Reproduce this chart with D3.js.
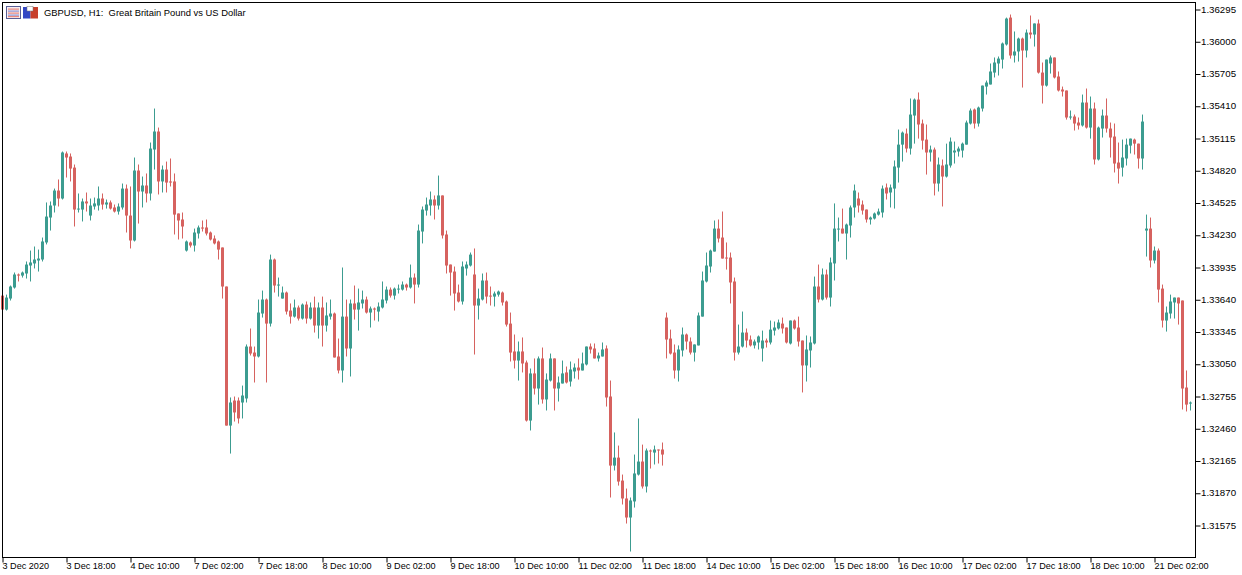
<!DOCTYPE html>
<html>
<head>
<meta charset="utf-8">
<script src="https://d3js.org/d3.v7.min.js"></script>
<style>
    html, body { margin: 0; padding: 0; background: #fff; overflow: hidden; }
    svg { display: block; }
    text { font-family: "Liberation Sans", Arial, sans-serif; fill: #000; }
</style>
</head>
<body>
<svg id="chart" width="1242" height="575"></svg>
<script>
// prices in points (1 point = 0.00001)
const opens = [
133678,133550,133651,133752,133871,133861,133880,133953,133972,133999,
134008,134164,134392,134502,134639,134566,134978,134950,134849,134465,
134465,134539,134410,134493,134502,134566,134511,134530,134484,134447,
134484,134657,134410,134182,134822,134630,134685,134612,135014,135179,
134722,134831,134722,134722,134429,134374,134090,134164,134136,134246,
134301,134301,134255,134200,134173,134118,133761,132489,132718,132718,
132700,132737,133212,133157,133121,133514,133642,133422,134008,133770,
133651,133706,133541,133486,133569,133468,133596,133468,133569,133404,
133569,133404,133486,133514,133121,132993,133486,133194,133606,133550,
133606,133642,133523,133560,133532,133569,133633,133733,133678,133733,
133733,133779,133752,133843,133779,134264,134456,134502,134557,134502,
134594,134237,133962,133898,133706,133624,133926,133953,133871,133587,
133642,133816,133678,133669,133687,133706,133624,133422,133167,133084,
133167,133066,132535,132966,132828,133103,132728,132901,133103,132828,
132874,132975,132892,132984,133020,132993,133048,133212,133194,133103,
133121,133194,132755,132123,132196,131986,131822,131648,131795,132041,
132160,131932,132261,132242,132270,132270,133477,133285,133157,132993,
133176,133322,133258,133157,133222,133486,133807,133944,134081,134291,
134209,134026,134026,133807,133157,133212,133340,133276,133222,133249,
133194,133267,133249,133358,133377,133422,133386,133240,133450,133386,
133267,133039,133176,133240,133761,133642,133871,133660,133972,134282,
134291,134246,134319,134484,134566,134511,134465,134374,134383,134419,
134438,134667,134621,134657,134849,135059,135160,135023,135325,135471,
135252,135105,134987,135014,134703,134868,134767,134868,134987,134996,
135005,135059,135252,135380,135252,135389,135590,135609,135718,135801,
135837,135975,136221,135874,135911,136029,135920,136084,136066,136167,
135718,135599,135801,135856,135682,135563,135554,135307,135316,135261,
135234,135444,135215,135389,134923,135206,135325,135206,135133,134895,
134849,134932,135050,135105,135068,134932,134273,134291,133999,134090,
133742,133450,133514,133615,133660,133633,132837,132690];

const highs = [
133678,133687,133770,133889,133880,133898,133990,134090,134127,134099,
134209,134530,134539,134657,134740,134996,134996,134978,134877,134612,
134566,134621,134566,134575,134676,134612,134557,134548,134511,134521,
134703,134694,134676,134941,134877,134767,134795,135078,135389,135215,
134868,134904,134932,134795,134429,134438,134182,134173,134291,134319,
134365,134374,134264,134228,134182,134118,133761,132746,132755,132746,
132855,133231,133377,133212,133642,133724,133651,134053,134017,133843,
133761,133715,133606,133642,133587,133606,133624,133615,133669,133615,
133669,133615,133642,133523,133285,133935,133642,133642,133770,133742,
133724,133669,133578,133569,133615,133807,133761,133752,133752,133779,
133807,133788,133962,133880,134328,134493,134575,134630,134594,134776,
134594,134273,133962,133944,133779,133990,133990,134072,134109,133742,
133880,133889,133761,133715,133724,133715,133633,133523,133322,133258,
133295,133084,133011,133103,133121,133203,132966,133148,133103,132938,
133084,133029,133075,133057,133103,133157,133212,133240,133240,133157,
133249,133222,132901,132426,132306,132041,131913,131831,132224,132554,
132315,132279,132270,132306,132270,132334,133523,133367,133231,133222,
133386,133331,133295,133231,133523,133898,134072,134099,134365,134374,
134447,134164,134072,133843,133413,133532,133377,133313,133276,133313,
133358,133285,133450,133441,133459,133477,133386,133450,133459,133486,
133267,133313,133304,133852,133962,133926,133916,134026,134521,134392,
134474,134337,134502,134694,134621,134548,134465,134401,134438,134474,
134685,134703,134694,134914,135197,135179,135206,135481,135481,135536,
135288,135243,135050,135032,134941,134923,135068,135124,135087,135041,
135078,135279,135389,135389,135407,135599,135645,135801,135856,135865,
135993,136221,136249,136094,136038,136038,136112,136240,136167,136203,
135810,135837,135874,135856,135728,135590,135554,135371,135334,135307,
135517,135572,135499,135444,135224,135380,135481,135261,135252,135078,
135105,135114,135114,135114,135068,135334,134419,134392,134127,134109,
133779,133578,133687,133660,133660,133633,132993,132709];

const lows = [
133550,133541,133633,133742,133807,133843,133834,133807,133926,133898,
133990,134146,134273,134438,134493,134557,134758,134722,134310,134438,
134356,134447,134365,134465,134456,134465,134474,134465,134438,134419,
134465,134255,134109,134173,134337,134484,134530,134548,134831,134603,
134621,134621,134676,134237,134191,134200,134081,134118,134081,134200,
134264,134228,134182,134146,134008,133651,132489,132233,132526,132508,
132554,132700,133130,132883,133112,133477,132883,133395,133706,133669,
133651,133505,133422,133477,133450,133459,133422,133459,133340,133285,
133212,133349,133459,133112,132966,132883,133121,132938,133459,133358,
133560,133514,133386,133450,133441,133560,133606,133660,133642,133697,
133724,133724,133742,133606,133752,134155,134410,134410,134374,134465,
134200,133880,133678,133541,133615,133596,133861,133944,133139,133459,
133633,133606,133587,133578,133669,133587,133395,133075,133011,132901,
132975,132526,132444,132773,132681,132690,132627,132892,132627,132709,
132874,132874,132846,132919,132910,132993,133039,133148,133103,133075,
133121,132663,131831,132078,131940,131767,131593,131337,131739,132032,
131913,131877,132096,132133,132142,132123,133103,133139,132919,132892,
133121,133185,133139,133075,133222,133486,133798,133889,134081,134164,
134017,133916,133606,133084,133139,133203,133203,133212,133194,133185,
133075,133203,133231,133313,133367,133331,133240,133231,133367,133212,
132792,132892,133020,133231,133615,133633,133642,133578,133816,134173,
134246,134008,134209,134392,134438,134419,134346,134328,134374,134410,
134392,134557,134484,134474,134712,134904,134987,134968,135068,135114,
135014,134785,134904,134594,134630,134493,134758,134849,134886,134950,
134941,135059,135243,135206,135224,135362,135517,135609,135673,135691,
135755,135965,135846,135810,135819,135581,135856,136029,135956,135709,
135435,135590,135709,135664,135545,135499,135288,135288,135188,135197,
135224,135206,135114,134877,134914,135124,135169,134941,134804,134703,
134767,134868,134978,134968,134840,134831,134035,133935,133972,133615,
133386,133349,133468,133468,133413,132636,132618,132627];

const closes = [
133550,133660,133761,133871,133861,133889,133962,133981,134008,134017,
134173,134401,134502,134639,134566,134987,134941,134840,134465,134474,
134539,134521,134502,134521,134566,134511,134530,134474,134447,134493,
134657,134410,134182,134822,134630,134685,134612,135023,135179,134722,
134831,134712,134712,134419,134365,134310,134173,134136,134255,134301,
134291,134246,134191,134155,134099,133761,132489,132700,132609,132554,
132764,133212,133148,133121,133523,133642,133422,134008,133770,133779,
133706,133532,133486,133569,133468,133596,133468,133569,133404,133569,
133404,133496,133514,133112,132993,133486,133194,133606,133550,133615,
133642,133523,133560,133550,133578,133642,133733,133678,133742,133742,
133779,133752,133843,133779,134273,134465,134511,134557,134502,134594,
134228,133953,133889,133697,133624,133944,133962,134053,133587,133651,
133816,133669,133669,133697,133715,133615,133413,133157,133084,133167,
133057,132535,132966,132828,133103,132728,132910,133103,132828,132883,
132966,132883,133002,133020,132993,133057,133212,133185,133103,133130,
133185,132746,132123,132196,131977,131822,131648,131804,132051,132160,
131932,132261,132252,132270,132261,132224,133276,133148,132993,133185,
133322,133258,133157,133231,133496,133816,133953,134090,134291,134200,
134017,134017,133798,133157,133212,133340,133267,133222,133258,133304,
133267,133249,133367,133386,133432,133377,133249,133450,133377,133258,
133039,133185,133249,133761,133642,133871,133660,133981,134291,134291,
134246,134328,134484,134639,134502,134456,134374,134392,134429,134447,
134657,134612,134667,134859,135059,135169,135023,135334,135471,135243,
135096,134987,135014,134703,134877,134767,134877,135087,135005,135023,
135068,135261,135371,135252,135398,135599,135627,135728,135810,135846,
135984,136212,135874,135911,136029,135920,136084,136066,136167,135718,
135599,135837,135856,135673,135554,135545,135307,135316,135252,135234,
135444,135215,135389,134923,135215,135325,135206,135124,134886,134840,
134941,135059,135114,135068,134932,135270,134291,133999,134090,133733,
133450,133523,133624,133660,133606,132828,132681,132700];

const priceTicks = [136295,136000,135705,135410,135115,134820,134525,134230,133935,133640,133345,133050,132755,132460,132165,131870,131575];
const timeLabels = ["3 Dec 2020","3 Dec 18:00","4 Dec 10:00","7 Dec 02:00","7 Dec 18:00","8 Dec 10:00","9 Dec 02:00","9 Dec 18:00","10 Dec 10:00","11 Dec 02:00","11 Dec 18:00","14 Dec 10:00","15 Dec 02:00","15 Dec 18:00","16 Dec 10:00","17 Dec 02:00","17 Dec 18:00","18 Dec 10:00","21 Dec 02:00"];
const title = "GBPUSD, H1:  Great Britain Pound vs US Dollar";

const up = "#3c9c90", down = "#d6625f";
const plotLeft = 2.5, plotRight = 1195.5, plotTop = 2.5, plotBottom = 557.5;

const svg = d3.select("#chart");

const x = d3.scaleLinear().domain([0, opens.length - 1]).range([2.5, 1190.5]);
const y = d3.scaleLinear().domain([d3.min(priceTicks), d3.max(priceTicks)]).range([525.5, 9.5]);

const candles = svg.append("g")
    .selectAll("g")
    .data(opens.map((o, i) => ({ i, o, h: highs[i], l: lows[i], c: closes[i] })))
    .join("g")
    .attr("fill", d => d.c >= d.o ? up : down)
    .attr("stroke", d => d.c >= d.o ? up : down);

candles.append("line")
    .attr("x1", d => x(d.i)).attr("x2", d => x(d.i))
    .attr("y1", d => y(d.h)).attr("y2", d => y(d.l));

candles.append("rect")
    .attr("stroke", "none")
    .attr("x", d => x(d.i) - 1.5)
    .attr("width", 3)
    .attr("y", d => y(Math.max(d.o, d.c)))
    .attr("height", d => Math.max(1, Math.abs(y(d.o) - y(d.c))));

// frame
svg.append("rect")
    .attr("x", plotLeft).attr("y", plotTop)
    .attr("width", plotRight - plotLeft).attr("height", plotBottom - plotTop)
    .attr("fill", "none").attr("stroke", "#000");

const yAxis = d3.axisRight(y)
    .tickValues(priceTicks)
    .tickSize(5)
    .tickPadding(1)
    .tickFormat(d => (d / 100000).toFixed(5));
svg.append("g").attr("transform", `translate(${plotRight},0)`).call(yAxis)
    .call(g => g.select(".domain").remove())
    .selectAll("text")
    .attr("dx", -0.5)
    .attr("dy", "0.27em")
    .attr("font-size", 9.7)
    .style("font-family", "inherit");

const xTicks = timeLabels.map((d, k) => k * 16);
const xAxis = d3.axisBottom(x)
    .tickValues(xTicks)
    .tickSize(5)
    .tickPadding(0)
    .tickFormat((d, k) => timeLabels[k]);
svg.append("g").attr("transform", `translate(0,${plotBottom})`).call(xAxis)
    .call(g => g.select(".domain").remove())
    .selectAll("text")
    .attr("text-anchor", "start")
    .attr("dx", -0.5)
    .attr("font-size", 9.1)
    .style("font-family", "inherit");

// header icons
const head = svg.append("g");
head.append("rect").attr("x", 6.5).attr("y", 6.5).attr("width", 14).attr("height", 12)
    .attr("fill", "#f6eef2").attr("stroke", "#5a5e94");
[8.5, 10.5, 12.5, 14.5, 16].forEach((yy, k) => {
    head.append("rect").attr("x", 8).attr("y", yy).attr("width", 11).attr("height", 1.2)
        .attr("fill", k % 2 ? "#8d92d0" : "#e8867c");
});
head.append("rect").attr("x", 23).attr("y", 7).attr("width", 7.5).attr("height", 11.5).attr("fill", "#3448c4");
head.append("rect").attr("x", 30.5).attr("y", 7).attr("width", 7.5).attr("height", 11.5).attr("fill", "#c8402c");
head.append("rect").attr("x", 27).attr("y", 6.5).attr("width", 6).attr("height", 4.5).attr("fill", "#fff").attr("stroke", "#777").attr("stroke-width", 0.5);

svg.append("text")
    .attr("x", 44).attr("y", 16)
    .attr("font-size", 9.4)
    .style("white-space", "pre")
    .text(title);
</script>
</body>
</html>
